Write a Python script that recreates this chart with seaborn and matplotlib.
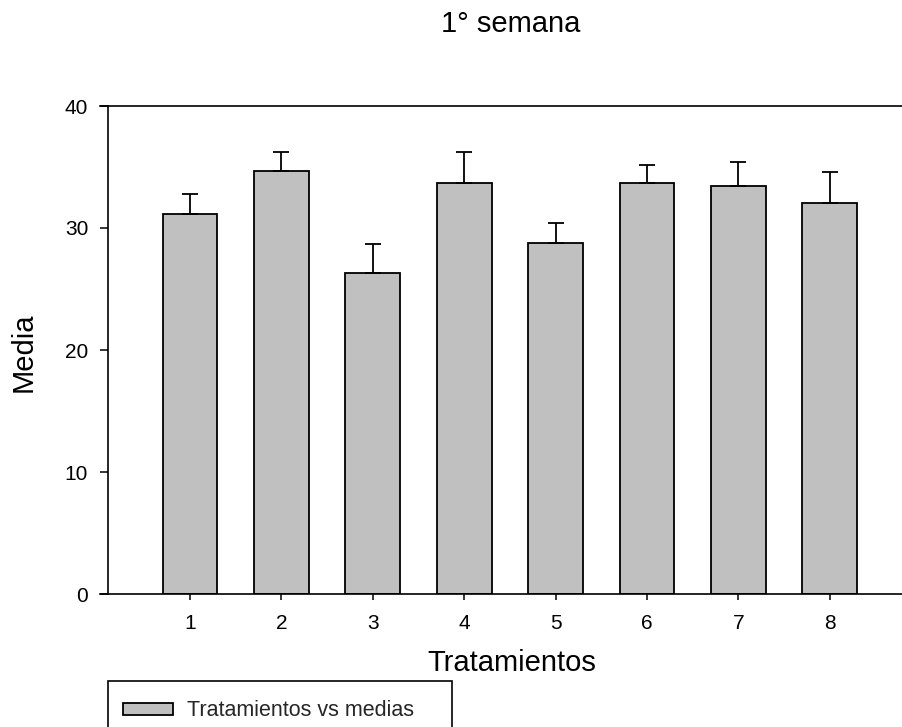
import matplotlib
matplotlib.use('Agg')
import matplotlib.pyplot as plt
import seaborn as sns
import pandas as pd
import numpy as np
from matplotlib.patches import Rectangle

# ---- data ----
tratamientos = ['1', '2', '3', '4', '5', '6', '7', '8']
medias = [31.15, 34.65, 26.3, 33.7, 28.8, 33.65, 33.45, 32.05]
errores = [1.65, 1.6, 2.4, 2.55, 1.65, 1.5, 1.95, 2.5]
yticks = [0, 10, 20, 30, 40]

titulo = '1° semana'
xlabel = 'Tratamientos'
ylabel = 'Media'
serie = 'Tratamientos vs medias'

sns.set_theme(style='white')
plt.rcParams['font.family'] = ['Liberation Sans', 'DejaVu Sans']

W, H = 902, 727
fig = plt.figure(figsize=(W / 100, H / 100), dpi=100)
ax = fig.add_axes([100 / W, (H - 594) / H, 802 / W, (594 - 106) / H])

df = pd.DataFrame({'Tratamiento': tratamientos, 'Media': medias})
sns.barplot(data=df, x='Tratamiento', y='Media', color='#c0c0c0',
            saturation=1, edgecolor='black', linewidth=1.3, width=0.6,
            errorbar=None, label=serie, ax=ax, zorder=2)
ax.errorbar(np.arange(len(medias)), medias,
            yerr=[np.zeros(len(errores)), errores], fmt='none',
            ecolor='black', elinewidth=1.3, capsize=5.8, capthick=1.3,
            zorder=3)

ax.set_xlim(-0.985, 7.79)
ax.set_ylim(0, 40)
ax.set_yticks(yticks)

for s in ['left', 'top', 'bottom']:
    ax.spines[s].set_color('black')
    ax.spines[s].set_linewidth(1.2)
    ax.spines[s].set_visible(True)
ax.spines['right'].set_visible(False)
ax.spines['left'].set_position(('data', -0.897))

ax.tick_params(axis='y', left=True, direction='out', length=5.8, width=1.1,
               pad=8.5, labelsize=15, colors='black')
ax.tick_params(axis='x', bottom=True, direction='out', length=4.5, width=1.1,
               pad=10, labelsize=15, colors='black')

ax.set_xlabel(xlabel, fontsize=21, color='black')
ax.xaxis.set_label_coords(0.514, -0.113)
ax.set_ylabel(ylabel, fontsize=21, color='black')
ax.yaxis.set_label_coords(-0.078, 0.496)

fig.text(511 / W, 1 - 31.7 / H, titulo, ha='center', va='baseline',
         fontsize=21, color='black')

handles, labels = ax.get_legend_handles_labels()
ax.legend(handles, labels, loc='center left',
          bbox_to_anchor=(123 / W, 1 - 711 / H),
          bbox_transform=fig.transFigure, frameon=False, fontsize=15.5,
          handlelength=2.33, handleheight=0.46, handletextpad=0.65,
          borderpad=0, borderaxespad=0)
fig.add_artist(Rectangle((107.7 / W, -0.05), 344.3 / W,
                         (727 - 681) / H + 0.05,
                         transform=fig.transFigure, fill=False,
                         edgecolor='black', lw=1.2))

fig.savefig('out.png', dpi=100)
